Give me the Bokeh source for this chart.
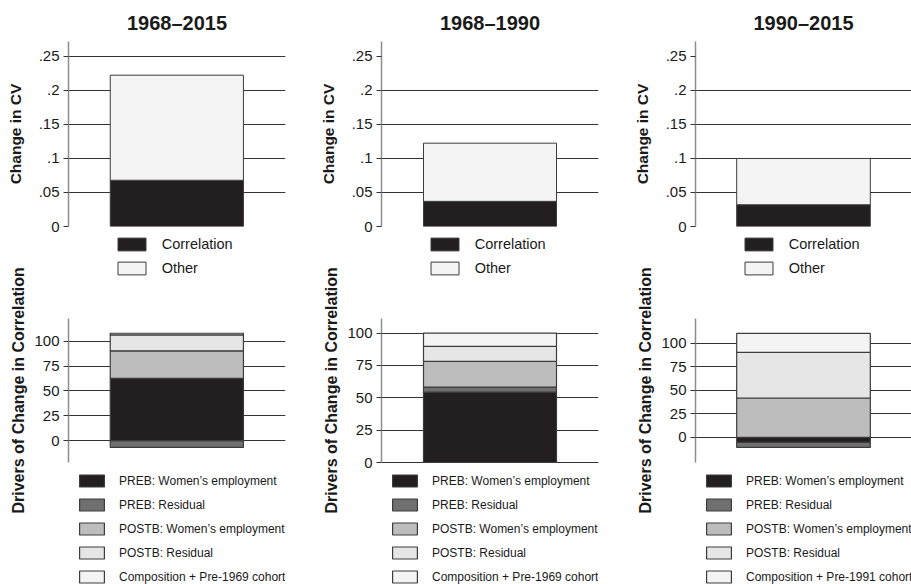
from bokeh.plotting import figure
from bokeh.models import Range1d, FixedTicker, Legend, LegendItem, Title
from bokeh.layouts import row, column
from bokeh.embed import file_html
from bokeh.resources import INLINE

# ---------------- data ----------------
periods = ["1968–2015", "1968–1990", "1990–2015"]

# top row: change in CV
corr = [0.068, 0.037, 0.032]
other = [0.1545, 0.0855, 0.068]
cv_ticks = [0, 0.05, 0.1, 0.15, 0.2, 0.25]
cv_tick_labels = ["0", ".05", ".1", ".15", ".2", ".25"]
cv_grid = [[0, 0.05, 0.1, 0.15, 0.2, 0.25],
           [0, 0.05, 0.1, 0.15, 0.2],
           [0, 0.05, 0.1, 0.15, 0.2]]
cv_series = ["Correlation", "Other"]

# bottom row: drivers of change in correlation
preb_emp = [62.7, 54.4, -5.3]
preb_res = [-6.7, 3.9, -5.3]
postb_emp = [27.6, 19.8, 41.9]
postb_res = [16.1, 11.6, 48.5]
composition = [1.6, 10.3, 20.2]
driver_names = ["PREB: Women’s employment", "PREB: Residual",
                "POSTB: Women’s employment", "POSTB: Residual"]
comp_names = ["Composition + Pre-1969 cohort",
              "Composition + Pre-1969 cohort",
              "Composition + Pre-1991 cohort"]
drv_ticks = [0, 25, 50, 75, 100]
drv_tick_labels = ["0", "25", "50", "75", "100"]
drv_ranges = [(-21.8, 122.5), (0, 111), (-26.6, 126)]
cv_range = (0, 0.272)

# ---------------- style ----------------
FONT = "Liberation Sans"
cv_colors = ["#231f20", "#f4f4f4"]
drv_colors = ["#231f20", "#707070", "#bdbdbd", "#e6e6e7", "#f4f4f4"]
OUTLINE = "#3c3c3c"

# geometry per column: (border_left, border_right, frame_width, bar gap left, bar gap right)
geom = [(68, 19, 217, 41.7, 42.0),
        (77, 19, 217, 42.0, 42.0),
        (78, 0, 216, 41.0, 41.0)]
BAR_PX = 133.0

TOP_H = 236
TOP_BT, TOP_FH, TOP_BB = 41, 185, 10
BOT_H = 348                      # bottom canvas; its frame fills it completely
AX_TOP, AX_BOT = 82.3, 226.0     # pixel extent of the lower y axis inside that canvas
DRV_LABEL_START = 277            # where the rotated lower axis title begins (from canvas top)


def style_axis(p):
    ax = p.yaxis[0]
    ax.major_label_text_font = FONT
    ax.major_label_text_font_size = "15px"
    ax.major_label_text_color = "#1a1a1a"
    ax.major_label_standoff = 4
    ax.axis_line_color = "#8c8c8c"
    ax.axis_line_width = 1.5
    ax.major_tick_line_color = "#333333"
    ax.major_tick_out = 5
    ax.major_tick_in = 0
    ax.minor_tick_line_color = None
    p.xgrid.visible = False
    p.ygrid.grid_line_color = "#333333"
    p.ygrid.grid_line_width = 1
    p.outline_line_color = None


def make_legend(items, glyph_w, glyph_h, spacing, standoff, font_size, x_off, top_px):
    n = len(items)
    leg_h = n * glyph_h + (n - 1) * spacing
    y = BOT_H - top_px - leg_h
    return Legend(items=items, location=(x_off, y),
                  orientation="vertical", padding=0, margin=0,
                  spacing=spacing, glyph_width=glyph_w, glyph_height=glyph_h,
                  label_height=glyph_h, label_standoff=standoff,
                  label_text_font=FONT, label_text_font_size=font_size,
                  label_text_color="#1a1a1a", label_text_baseline="middle",
                  border_line_color=None, background_fill_alpha=0)


def make_top(i):
    bl, br, fw, gl, gr = geom[i]
    xr = Range1d(-0.5 - gl / BAR_PX, 0.5 + gr / BAR_PX)
    p = figure(width=bl + fw + br, height=TOP_H,
               min_border_left=bl, min_border_right=br,
               min_border_top=TOP_BT, min_border_bottom=TOP_BB,
               x_range=xr, y_range=Range1d(*cv_range),
               x_axis_type=None, title=periods[i],
               output_backend="svg", toolbar_location=None)
    p.title.text_font = FONT
    p.title.text_font_style = "bold"
    p.title.text_font_size = "20px"
    p.title.text_color = "#1a1a1a"
    p.title.align = "center"
    p.title.standoff = 15
    style_axis(p)
    ax = p.yaxis[0]
    ax.axis_label = "Change in CV"
    ax.axis_label_text_font = FONT
    ax.axis_label_text_font_style = "bold"
    ax.axis_label_text_font_size = "15.5px"
    ax.axis_label_text_color = "#1a1a1a"
    ax.axis_label_standoff = 12
    ax.ticker = FixedTicker(ticks=cv_ticks)
    ax.major_label_overrides = dict(zip(cv_ticks, cv_tick_labels))
    p.ygrid.ticker = FixedTicker(ticks=cv_grid[i])

    p.vbar(x=[0], bottom=[0], top=[corr[i]], width=1,
           fill_color=cv_colors[0], line_color=OUTLINE, line_width=1)
    p.vbar(x=[0], bottom=[corr[i]], top=[corr[i] + other[i]], width=1,
           fill_color=cv_colors[1], line_color=OUTLINE, line_width=1)
    return p


def make_bottom(i):
    bl, br, fw, gl, gr = geom[i]
    xr = Range1d(-0.5 - gl / BAR_PX, 0.5 + gr / BAR_PX)
    lo, hi = drv_ranges[i]
    k = (AX_BOT - AX_TOP) / (hi - lo)          # px per unit
    yr = Range1d(lo - (BOT_H - AX_BOT) / k, hi + AX_TOP / k)
    p = figure(width=bl + fw + br, height=BOT_H,
               min_border_left=bl, min_border_right=br,
               min_border_top=0, min_border_bottom=0,
               x_range=xr, y_range=yr,
               x_axis_type=None,
               output_backend="svg", toolbar_location=None)
    style_axis(p)
    ax = p.yaxis[0]
    ax.bounds = (lo, hi)
    ax.ticker = FixedTicker(ticks=drv_ticks)
    ax.major_label_overrides = dict(zip(drv_ticks, drv_tick_labels))
    p.ygrid.ticker = FixedTicker(ticks=drv_ticks)

    # rotated axis title (reads bottom to top), placed beside the axis extent
    p.add_layout(Title(text="Drivers of Change in Correlation", align="left",
                       offset=BOT_H - DRV_LABEL_START,
                       text_font=FONT, text_font_style="bold",
                       text_font_size="16px", text_color="#1a1a1a",
                       standoff=10), "left")

    vals = [preb_emp[i], preb_res[i], postb_emp[i], postb_res[i], composition[i]]
    names = driver_names + [comp_names[i]]
    pos, neg = 0.0, 0.0
    items = []
    for v, c, n in zip(vals, drv_colors, names):
        if v >= 0:
            b, t = pos, pos + v
            pos = t
        else:
            b, t = neg, neg + v
            neg = t
        r = p.vbar(x=[0], bottom=[b], top=[t], width=1,
                   fill_color=c, line_color=OUTLINE, line_width=1.2)
        items.append(LegendItem(label=n, renderers=[r]))

    # legend of the upper (CV) panel: proxy renderers, hidden on this canvas
    cv_vals = [corr[i], other[i]]
    cv_items = []
    for name, col, v in zip(cv_series, cv_colors, cv_vals):
        r = p.vbar(x=[0], bottom=[0], top=[v], width=1, fill_color=col,
                   line_color=OUTLINE, line_width=1, visible=False)
        cv_items.append(LegendItem(label=name, renderers=[r]))
    p.add_layout(make_legend(cv_items, 35, 16, 8, 13, "14.5px", 45.7, 0))
    p.add_layout(make_legend(items, 31, 15, 9, 12, "12px", 8, 237))
    return p


cols = [column(make_top(i), make_bottom(i)) for i in range(3)]
layout = row(*cols)

open("out.html", "w").write(file_html(layout, INLINE))
